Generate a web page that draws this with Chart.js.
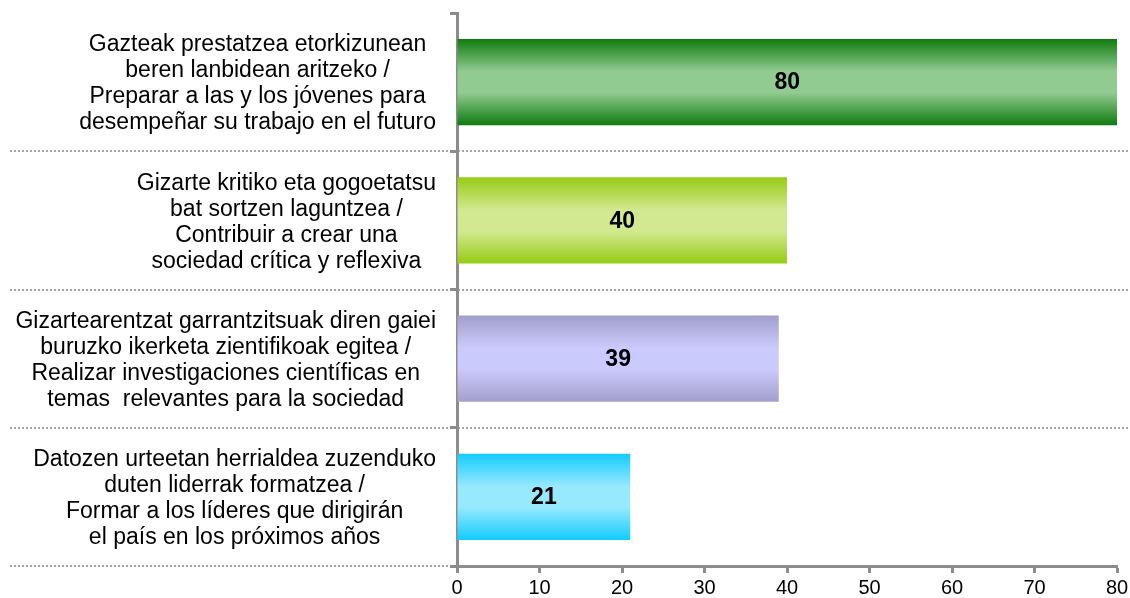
<!DOCTYPE html>
<html>
<head>
<meta charset="utf-8">
<script src="https://cdn.jsdelivr.net/npm/chart.js@4"></script>
<style>
  body { margin: 0; background: #fff; }
  #wrap { width: 1130px; height: 598px; }
</style>
</head>
<body>
<div id="wrap"><canvas id="chart"></canvas></div>
<script>
const categories = [
  ['Gazteak prestatzea etorkizunean', 'beren lanbidean aritzeko /', 'Preparar a las y los jóvenes para', 'desempeñar su trabajo en el futuro'],
  ['Gizarte kritiko eta gogoetatsu', 'bat sortzen laguntzea /', 'Contribuir a crear una', 'sociedad crítica y reflexiva'],
  ['Gizartearentzat garrantzitsuak diren gaiei', 'buruzko ikerketa zientifikoak egitea /', 'Realizar investigaciones científicas en', 'temas  relevantes para la sociedad'],
  ['Datozen urteetan herrialdea zuzenduko', 'duten liderrak formatzea /', 'Formar a los líderes que dirigirán', 'el país en los próximos años']
];
const values = [80, 40, 39, 21];
const xTicks = [0, 10, 20, 30, 40, 50, 60, 70, 80];

// bar gradient: edge colour top/bottom, light colour in the middle
const edgeColors = ['#0e7b0e', '#97cb14', '#a39fcc', '#12cbfd'];
const midColors = ['#92cb92', '#d2e991', '#cbcafc', '#97e9fe'];

const BAR_PCT = 0.625;
const AXIS_GRAY = '#8c8c8c';
const FONT = '"Liberation Sans", Arial, sans-serif';

Chart.defaults.font.family = FONT;
Chart.defaults.color = '#000';

function barGradient(c) {
  const chart = c.chart;
  const y = chart.scales.y;
  const i = c.dataIndex;
  if (c.type !== 'data' || !y) return edgeColors[i || 0];
  const center = y.getPixelForValue(i);
  const half = y.height / categories.length * BAR_PCT / 2;
  if (!isFinite(center) || !isFinite(half) || half <= 0) return edgeColors[i];
  const g = chart.ctx.createLinearGradient(0, center - half, 0, center + half);
  g.addColorStop(0, edgeColors[i]);
  g.addColorStop(0.38, midColors[i]);
  g.addColorStop(0.62, midColors[i]);
  g.addColorStop(1, edgeColors[i]);
  return g;
}

// dotted separators running across the label area
const separators = {
  id: 'separators',
  beforeDraw(chart) {
    const ctx = chart.ctx;
    const y = chart.scales.y;
    const band = y.height / categories.length;
    ctx.save();
    ctx.strokeStyle = '#a6a6a6';
    ctx.lineWidth = 2;
    ctx.setLineDash([2, 2]);
    for (let i = 1; i <= categories.length; i++) {
      const py = Math.round(y.top + band * i);
      const right = i === categories.length ? chart.chartArea.left + 62 : chart.width;
      ctx.beginPath();
      ctx.moveTo(10, py);
      ctx.lineTo(right, py);
      ctx.stroke();
    }
    ctx.restore();
  }
};

// category labels: each block right aligned, lines centred inside the block
const catLabels = {
  id: 'catLabels',
  afterDraw(chart) {
    const ctx = chart.ctx;
    const y = chart.scales.y;
    const rightEdge = chart.chartArea.left - 21;
    const lineH = 26;
    ctx.save();
    ctx.font = '23px ' + FONT;
    ctx.fillStyle = '#000';
    ctx.textAlign = 'center';
    ctx.textBaseline = 'middle';
    categories.forEach((lines, i) => {
      const w = Math.max(...lines.map(l => ctx.measureText(l).width));
      const cx = rightEdge - w / 2;
      const cy = y.getPixelForValue(i);
      lines.forEach((l, k) => {
        ctx.fillText(l, cx, cy + (k - (lines.length - 1) / 2) * lineH + 2);
      });
    });
    ctx.restore();
  }
};

// value labels centred in each bar
const valueLabels = {
  id: 'valueLabels',
  afterDatasetsDraw(chart) {
    const ctx = chart.ctx;
    const meta = chart.getDatasetMeta(0);
    ctx.save();
    ctx.font = 'bold 23px ' + FONT;
    ctx.fillStyle = '#000';
    ctx.textAlign = 'center';
    ctx.textBaseline = 'middle';
    meta.data.forEach((bar, i) => {
      ctx.fillText(String(values[i]), (bar.x + bar.base) / 2, bar.y + 1);
    });
    ctx.restore();
  }
};

new Chart(document.getElementById('chart'), {
  type: 'bar',
  data: {
    labels: categories,
    datasets: [{
      data: values,
      backgroundColor: barGradient,
      borderWidth: 0,
      barPercentage: 1,
      categoryPercentage: BAR_PCT
    }]
  },
  options: {
    indexAxis: 'y',
    responsive: true,
    maintainAspectRatio: false,
    animation: false,
    layout: { padding: { top: 13, right: 13, left: 0, bottom: 0 } },
    plugins: {
      legend: { display: false },
      tooltip: { enabled: false }
    },
    scales: {
      x: {
        min: xTicks[0],
        max: xTicks[xTicks.length - 1],
        afterBuildTicks: s => { s.ticks = xTicks.map(v => ({ value: v })); },
        afterFit: s => { s.height = 32; s.paddingLeft = 0; s.paddingRight = 0; },
        grid: {
          drawOnChartArea: false,
          drawTicks: true,
          tickLength: 7,
          tickColor: AXIS_GRAY,
          tickWidth: 3
        },
        border: { color: AXIS_GRAY, width: 3 },
        ticks: {
          padding: 5,
          font: { size: 20, lineHeight: 1 },
          color: '#000',
          maxRotation: 0
        }
      },
      y: {
        afterFit: s => { s.width = 457; },
        grid: {
          offset: true,
          drawOnChartArea: false,
          drawTicks: true,
          tickLength: 7,
          tickColor: AXIS_GRAY,
          tickWidth: 3
        },
        border: { color: AXIS_GRAY, width: 3 },
        ticks: { display: false }
      }
    }
  },
  plugins: [separators, catLabels, valueLabels]
});
</script>
</body>
</html>
